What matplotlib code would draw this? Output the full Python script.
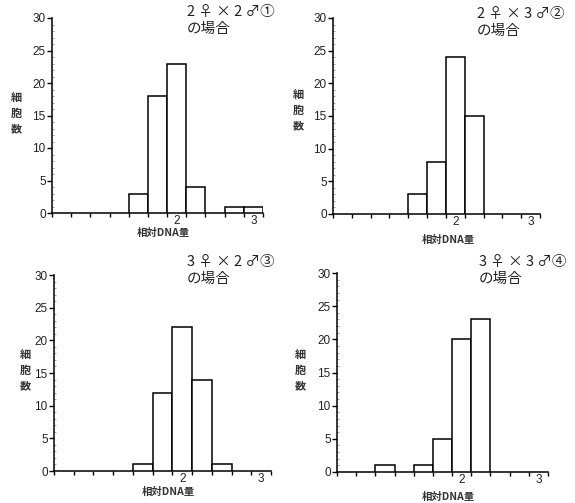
import matplotlib
matplotlib.use("Agg")
import matplotlib.pyplot as plt
from matplotlib.ticker import FixedLocator, MultipleLocator

plt.rcParams['font.family'] = ['Noto Sans CJK JP', 'DejaVu Sans']

# relative DNA amount (bin centres) and cell counts for each cross
dna_bins = [0.5, 0.75, 1.0, 1.25, 1.5, 1.75, 2.0, 2.25, 2.5, 2.75, 3.0]
counts_1 = [0, 0, 0, 0, 3, 18, 23, 4, 0, 1, 1]
counts_2 = [0, 0, 0, 0, 3, 8, 24, 15, 0, 0, 0]
counts_3 = [0, 0, 0, 0, 1, 12, 22, 14, 1, 0, 0]
counts_4 = [0, 0, 1, 0, 1, 5, 20, 23, 0, 0, 0]

titles = ["2 ♀ × 2 ♂①\nの場合", "2 ♀ × 3 ♂②\nの場合",
          "3 ♀ × 2 ♂③\nの場合", "3 ♀ × 3 ♂④\nの場合"]
xlabel = "相対DNA量"
ylabel = "細\n胞\n数"
bin_width = 0.25

W, H = 575, 503
fig = plt.figure(figsize=(W / 100, H / 100), dpi=100)
fig.patch.set_facecolor("white")

# axes boxes in pixels: left, right, top, bottom
boxes = [(52, 263, 18, 213), (333, 540, 18, 214),
         (54, 271, 275, 471), (337, 548, 273, 472)]
title_pos = [(187, 5), (477, 7), (187, 255), (479, 255)]
ylab_pos = [(16, 113), (298, 110), (25, 370), (300, 370)]
xlab_pos = [(163, 233), (448, 240), (168, 492), (448, 497)]

for i, counts in enumerate([counts_1, counts_2, counts_3, counts_4]):
    l, r, t, b = boxes[i]
    ax = fig.add_axes([l / W, 1 - b / H, (r - l) / W, (b - t) / H])
    xs = [x for x, c in zip(dna_bins, counts) if c > 0]
    hs = [c for c in counts if c > 0]
    ax.bar(xs, hs, width=bin_width, facecolor="white", edgecolor="black",
           linewidth=1.1, zorder=3)
    ax.set_xlim(dna_bins[0] - bin_width / 2, dna_bins[-1] + bin_width / 2)
    ax.set_ylim(0, 30)
    for s in ["top", "right"]:
        ax.spines[s].set_visible(False)
    for s in ["left", "bottom"]:
        ax.spines[s].set_linewidth(1.1)
    ax.set_yticks([0, 5, 10, 15, 20, 25, 30])
    ax.yaxis.set_minor_locator(MultipleLocator(1))
    ax.tick_params(axis="y", which="major", direction="out", length=3.5,
                   width=1, labelsize=8.5, pad=1, labelcolor="#222222")
    ax.tick_params(axis="y", which="minor", direction="in", length=1.5,
                   width=0.5, color="#777777")
    ax.set_xticks([2, 3])
    ax.set_xticklabels(["2", "3"])
    edges = [x - bin_width / 2 for x in dna_bins] + [dna_bins[-1] + bin_width / 2]
    ax.xaxis.set_minor_locator(FixedLocator(edges))
    ax.tick_params(axis="x", which="major", length=0, labelsize=8.5, pad=1.5,
                   labelcolor="#222222")
    ax.tick_params(axis="x", which="minor", direction="out", length=3, width=1)
    for lab in ax.get_xticklabels() + ax.get_yticklabels():
        lab.set_family(["Liberation Sans", "DejaVu Sans"])

    tx, ty = title_pos[i]
    fig.text(tx / W, 1 - ty / H, titles[i], ha="left", va="top", fontsize=10.5,
             linespacing=1.25, color="#222222")
    yx, yy = ylab_pos[i]
    fig.text(yx / W, 1 - yy / H, ylabel, ha="center", va="center", fontsize=8,
             fontweight="bold", linespacing=1.25, color="#333333")
    xx, xy = xlab_pos[i]
    fig.text(xx / W, 1 - xy / H, xlabel, ha="center", va="center", fontsize=7.5,
             fontweight="bold", color="#333333")

fig.savefig("out.png", dpi=100, facecolor="white")
